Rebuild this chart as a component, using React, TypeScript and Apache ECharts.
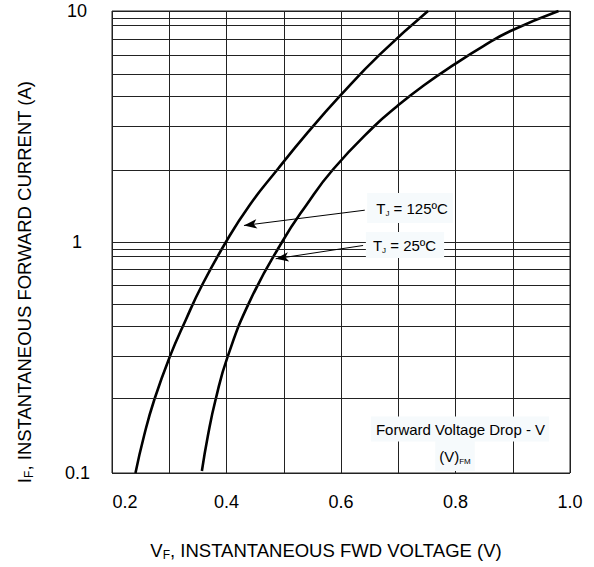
import React, { useEffect, useRef } from 'react';
import * as echarts from 'echarts';

const FONT = "'Liberation Sans', Arial, Helvetica, sans-serif";

// x-axis tick labels (V) and y-axis labels (A)
const xLabels = ['0.2', '0.4', '0.6', '0.8', '1.0'];
const yLabels = ['0.1', '1', '10'];

// intermediate horizontal grid lines as drawn in the picture (A)
const minorGridCurrents = [
  0.207, 0.318, 0.434, 0.537, 0.647, 0.764, 0.873, 0.933,
  2.05, 3.16, 4.29, 5.34, 6.45, 7.54, 8.7, 9.26,
];

// TJ = 125 ºC curve
const vf125 = [0.241, 0.256, 0.274, 0.301, 0.329, 0.357, 0.399, 0.44, 0.489, 0.542, 0.599, 0.668, 0.752];
const if125 = [0.1, 0.145, 0.208, 0.319, 0.461, 0.648, 1.0, 1.44, 2.06, 2.98, 4.31, 6.49, 10];

// TJ = 25 ºC curve
const vf25 = [0.357, 0.3675, 0.381, 0.402, 0.442, 0.497, 0.539, 0.586, 0.658, 0.698, 0.745, 0.798, 0.848, 0.896, 0.98];
const if25 = [0.102, 0.145, 0.208, 0.319, 0.563, 1.0, 1.44, 2.06, 3.17, 3.87, 4.77, 5.87, 7.03, 8.19, 10];

// annotation arrows: [V, A] start and tip
const arrow125 = [[0.6415, 1.373], [0.4305, 1.179]];
const arrow25 = [[0.6386, 0.966], [0.4859, 0.846]];

export default function App() {
  const ref = useRef<HTMLDivElement>(null);

  useEffect(() => {
    if (!ref.current) return;
    const chart = echarts.init(ref.current, undefined, { renderer: 'svg' });

    const tokenRich = {
      t: { fontSize: 15, fontFamily: FONT, fill: '#000', color: '#000', lineHeight: 18 },
      s: { fontSize: 8, fontFamily: FONT, fill: '#000', color: '#000', lineHeight: 10, verticalAlign: 'bottom' },
    };

    const curveSeries = (name: string, xs: number[], ys: number[], arrow: number[][]) => ({
      name,
      type: 'line',
      data: xs.map((v, i) => [v, ys[i]]),
      smooth: 0.5,
      symbol: 'none',
      z: 3,
      lineStyle: { color: '#000', width: 2.6 },
      markLine: {
        silent: true,
        symbolSize: 12,
        label: { show: false },
        lineStyle: { color: '#000', width: 1, type: 'solid' },
        data: [
          [
            { coord: arrow[0], symbol: 'none' },
            { coord: arrow[1], symbol: 'arrow', symbolSize: [7, 13] },
          ],
        ],
      },
    });

    const option: any = {
      animation: false,
      backgroundColor: '#ffffff',
      textStyle: { fontFamily: FONT, color: '#000' },
      grid: {
        left: 112,
        top: 11,
        right: 24,
        bottom: 94,
        show: true,
        borderColor: '#222',
        borderWidth: 1,
      },
      xAxis: {
        type: 'value',
        min: 0.2,
        max: 1.0,
        interval: 0.1,
        axisLine: { show: false },
        axisTick: { show: false },
        splitLine: { show: true, lineStyle: { color: '#222', width: 1 } },
        axisLabel: {
          show: true,
          margin: 20,
          showMinLabel: true,
          showMaxLabel: true,
          fontSize: 18,
          color: '#000',
          fontFamily: FONT,
          formatter: (v: number) => {
            const s = v.toFixed(1);
            if (!xLabels.includes(s)) return '';
            if (s === '0.2') return '{f|' + s + '}';
            return '{n|' + s + '}';
          },
          rich: {
            f: { fontSize: 18, fontFamily: FONT, color: '#000', padding: [0, 0, 0, 26] },
            n: { fontSize: 18, fontFamily: FONT, color: '#000' },
          },
        },
        name: '{m|V}{s|F}{m|, INSTANTANEOUS FWD VOLTAGE (V)}',
        nameLocation: 'middle',
        nameGap: 66,
        nameTextStyle: {
          padding: [0, 30, 0, 0],
          rich: {
            m: { fontSize: 18.5, lineHeight: 22, fontFamily: FONT, color: '#000' },
            s: { fontSize: 12, lineHeight: 12, verticalAlign: 'bottom', fontFamily: FONT, color: '#000' },
          },
        },
      },
      yAxis: {
        type: 'log',
        logBase: 10,
        min: 0.1,
        max: 10,
        axisLine: { show: false },
        axisTick: { show: false },
        splitLine: { show: true, lineStyle: { color: '#222', width: 1 } },
        axisLabel: {
          margin: 22,
          fontSize: 18,
          color: '#000',
          fontFamily: FONT,
          formatter: (v: number) => {
            const s = v < 0.5 ? yLabels[0] : v < 5 ? yLabels[1] : yLabels[2];
            if (s === '10') return '{a|10}';
            if (s === '1') return '{b|1}';
            return '{c|' + s + '}';
          },
          rich: {
            a: { fontSize: 18, fontFamily: FONT, color: '#000', padding: [0, 3, 0, 0] },
            b: { fontSize: 18, fontFamily: FONT, color: '#000', padding: [0, 8, 0, 0] },
            c: { fontSize: 18, fontFamily: FONT, color: '#000' },
          },
        },
        name: '{m|I}{s|F}{m|, INSTANTANEOUS FORWARD CURRENT (A)}',
        nameLocation: 'middle',
        nameGap: 77,
        nameTextStyle: {
          padding: [0, 80, 0, 0],
          rich: {
            m: { fontSize: 18.5, lineHeight: 22, fontFamily: FONT, color: '#000' },
            s: { fontSize: 12, lineHeight: 12, verticalAlign: 'bottom', fontFamily: FONT, color: '#000' },
          },
        },
      },
      series: [
        {
          name: 'grid',
          type: 'line',
          data: [[0.2, 0.1]],
          symbol: 'none',
          lineStyle: { opacity: 0 },
          silent: true,
          z: 1,
          markLine: {
            silent: true,
            symbol: ['none', 'none'],
            label: { show: false },
            lineStyle: { color: '#222', width: 1, type: 'solid' },
            data: minorGridCurrents.map((v) => ({ yAxis: v })),
          },
        },
        curveSeries('TJ = 125ºC', vf125, if125, arrow125),
        curveSeries('TJ = 25ºC', vf25, if25, arrow25),
      ],
      graphic: [
        {
          type: 'text',
          x: 410,
          y: 208,
          z: 100,
          style: {
            text: '{t|T}{s|J}{t| = 125ºC}',
            rich: tokenRich,
            align: 'center',
            verticalAlign: 'middle',
            backgroundColor: '#f6fafc',
            padding: [6, 5, 6, 9],
          },
        },
        {
          type: 'text',
          x: 405,
          y: 245,
          z: 100,
          style: {
            text: '{t|T}{s|J}{t| = 25ºC}',
            rich: tokenRich,
            align: 'center',
            verticalAlign: 'middle',
            backgroundColor: '#f6fafc',
            padding: [4, 8, 4, 7],
          },
        },
        {
          type: 'text',
          x: 460,
          y: 429,
          z: 100,
          style: {
            text: 'Forward Voltage Drop - V',
            fontSize: 15,
            fontFamily: FONT,
            fill: '#000',
            align: 'center',
            verticalAlign: 'middle',
            backgroundColor: '#f6fafc',
            padding: [5, 4, 5, 5],
          },
        },
        {
          type: 'text',
          x: 455,
          y: 456,
          z: 100,
          style: {
            text: '{t|(V)}{s|FM}',
            rich: tokenRich,
            align: 'center',
            verticalAlign: 'middle',
            backgroundColor: '#f6fafc',
            padding: [6, 4, 6, 4],
          },
        },
      ],
    };

    chart.setOption(option);
    return () => chart.dispose();
  }, []);

  return (
    <div
      ref={ref}
      style={{ position: 'fixed', left: 0, top: 0, width: 594, height: 567, background: '#fff' }}
    />
  );
}
